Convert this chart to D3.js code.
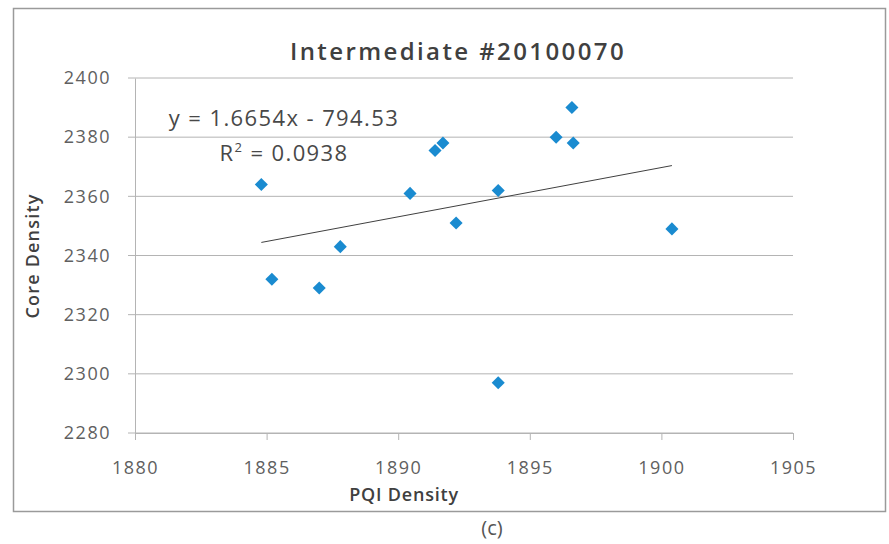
<!DOCTYPE html>
<html>
<head>
<meta charset="utf-8">
<script src="https://cdn.jsdelivr.net/npm/d3@7"></script>
<style>
  body { margin: 0; background: #ffffff; }
  svg { display: block; font-family: "Open Sans", Lato, sans-serif; }
</style>
</head>
<body>
<svg width="889" height="544"></svg>
<script>
// values
var pqiDensity  = [1884.8, 1885.2, 1887.0, 1887.8, 1890.45, 1891.4, 1891.7,
                   1892.2, 1893.8, 1893.8, 1896.0, 1896.6, 1896.65, 1900.4];
var coreDensity = [2364, 2332, 2329, 2343, 2361, 2375.5, 2378,
                   2351, 2362, 2297, 2380, 2390, 2378, 2349];
var xTicks = [1880, 1885, 1890, 1895, 1900, 1905];
var yTicks = [2280, 2300, 2320, 2340, 2360, 2380, 2400];
var trendSlope = 1.6654, trendIntercept = -794.53;
var titleText = "Intermediate #20100070";
var eqText = "y = 1.6654x - 794.53";
var r2Value = "0.0938";

var data = pqiDensity.map( (x, i) => ({ x: x, y: coreDensity[i] }) );

var svg = d3.select( "svg" );

//outer chart frame
svg.append( "rect" )
    .attr( "x", 13.5 ).attr( "y", 8.5 )
    .attr( "width", 872 ).attr( "height", 503 )
    .attr( "fill", "#ffffff" )
    .attr( "stroke", "#9a9a9a" ).attr( "stroke-width", 1.5 );

var scX = d3.scaleLinear().domain( [1880, 1905] ).range( [135, 793] );
var scY = d3.scaleLinear().domain( [2280, 2400] ).range( [433, 78] );

//horizontal gridlines, with short ticks left of the axis
svg.append( "g" ).attr( "id", "grid" )
    .selectAll( "line" )
    .data( yTicks ).enter().append( "line" )
    .attr( "x1", scX(1880) - 7 ).attr( "x2", scX(1905) )
    .attr( "y1", d => scY(d) ).attr( "y2", d => scY(d) )
    .attr( "stroke", "#b4b4b4" ).attr( "stroke-width", 1 );

//y axis
var yAxis = svg.append( "g" )
    .attr( "transform", "translate(" + scX(1880) + ",0)" )
    .call( d3.axisLeft(scY).tickValues(yTicks).tickFormat(d3.format("d"))
               .tickSize(0).tickPadding(24) );
yAxis.select( ".domain" ).attr( "stroke", "#b4b4b4" );
yAxis.selectAll( "text" )
    .attr( "font-size", 18 ).attr( "fill", "#606060" )
    .attr( "letter-spacing", 1.5 )
    .style( "font-family", "'Open Sans', sans-serif" );

//x axis
var xAxis = svg.append( "g" )
    .attr( "transform", "translate(0," + scY(2280) + ")" )
    .call( d3.axisBottom(scX).tickValues(xTicks).tickFormat(d3.format("d"))
               .tickSize(7).tickPadding(21) );
xAxis.select( ".domain" ).attr( "stroke", "#b4b4b4" );
xAxis.selectAll( "line" ).attr( "stroke", "#b4b4b4" );
xAxis.selectAll( "text" )
    .attr( "font-size", 18 ).attr( "fill", "#606060" )
    .attr( "letter-spacing", 1.5 )
    .style( "font-family", "'Open Sans', sans-serif" );

//linear trendline across the range of x
var xExt = d3.extent( pqiDensity );
var lineMaker = d3.line()
    .x( d => scX(d) )
    .y( d => scY( trendSlope * d + trendIntercept ) );
svg.append( "path" )
    .attr( "fill", "none" ).attr( "stroke", "#404040" ).attr( "stroke-width", 1 )
    .attr( "d", lineMaker(xExt) );

//diamond markers
svg.append( "g" ).attr( "id", "pts" )
    .attr( "fill", "#1a8bd0" )
    .selectAll( "path" )
    .data( data ).enter().append( "path" )
    .attr( "d", d3.symbol().type(d3.symbolSquare).size(85) )
    .attr( "transform", d => "translate(" + scX(d.x) + "," + scY(d.y) + ") rotate(45)" );

//titles
svg.append( "text" )
    .attr( "x", 458 ).attr( "y", 60 )
    .attr( "text-anchor", "middle" )
    .attr( "font-size", 24 ).attr( "font-weight", 600 ).attr( "fill", "#404040" )
    .attr( "letter-spacing", 2.4 )
    .text( titleText );

svg.append( "text" )
    .attr( "x", 404 ).attr( "y", 501 )
    .attr( "text-anchor", "middle" )
    .attr( "font-size", 18 ).attr( "font-weight", 600 ).attr( "fill", "#404040" )
    .attr( "letter-spacing", 0.8 )
    .text( "PQI Density" );

svg.append( "text" )
    .attr( "transform", "translate(39,256) rotate(-90)" )
    .attr( "text-anchor", "middle" )
    .attr( "font-size", 18 ).attr( "font-weight", 600 ).attr( "fill", "#404040" )
    .attr( "letter-spacing", 1.2 )
    .text( "Core Density" );

//trendline equation label
var eq = svg.append( "g" ).attr( "fill", "#484848" )
    .attr( "font-size", 22 ).attr( "letter-spacing", 1.4 );
eq.append( "text" )
    .attr( "x", 284 ).attr( "y", 126 ).attr( "text-anchor", "middle" )
    .text( eqText );
var r2 = eq.append( "text" )
    .attr( "x", 284 ).attr( "y", 161 ).attr( "text-anchor", "middle" );
r2.append( "tspan" ).text( "R" );
r2.append( "tspan" ).attr( "dy", -9 ).attr( "font-size", 13 ).text( "2" );
r2.append( "tspan" ).attr( "dy", 9 ).text( " = " + r2Value );

//figure caption
svg.append( "text" )
    .attr( "x", 492 ).attr( "y", 535 )
    .attr( "text-anchor", "middle" )
    .attr( "font-size", 20 ).attr( "fill", "#555555" )
    .text( "(c)" );
</script>
</body>
</html>
